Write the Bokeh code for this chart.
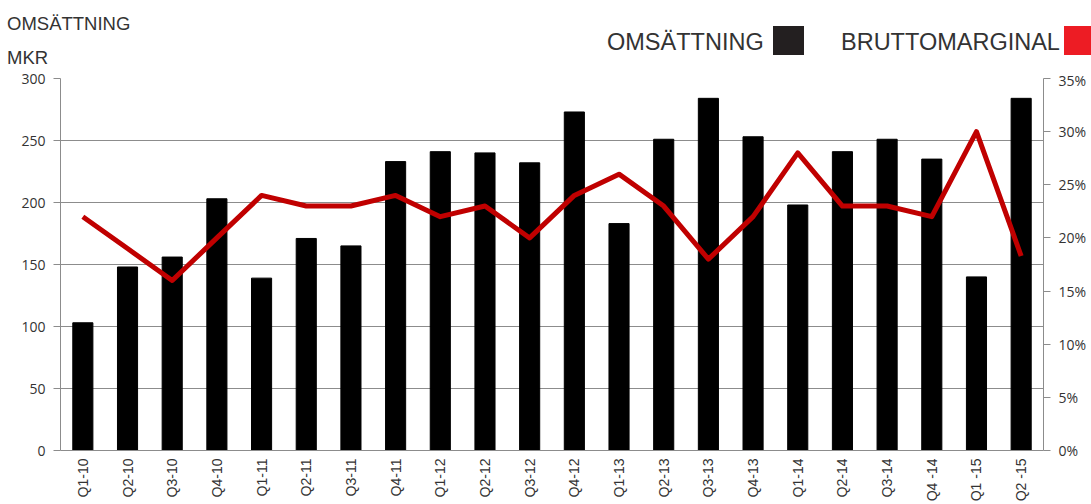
import math
from bokeh.plotting import figure
from bokeh.layouts import column
from bokeh.models import (Range1d, LinearAxis, FixedTicker, NumeralTickFormatter, Div)
from bokeh.embed import file_html
from bokeh.resources import INLINE

quarters = ["Q1-10", "Q2-10", "Q3-10", "Q4-10", "Q1-11", "Q2-11", "Q3-11", "Q4-11",
            "Q1-12", "Q2-12", "Q3-12", "Q4-12", "Q1-13", "Q2-13", "Q3-13", "Q4-13",
            "Q1-14", "Q2-14", "Q3-14", "Q4 -14", "Q1 -15", "Q2 -15"]
omsattning = [103, 148, 156, 203, 139, 171, 165, 233, 241, 240, 232, 273,
              183, 251, 284, 253, 198, 241, 251, 235, 140, 284]
bruttomarginal = [22, 19, 16, 20, 24, 23, 23, 24, 22, 23, 20, 24,
                  26, 23, 18, 22, 28, 23, 23, 22, 30, 18.3]
left_ticks = [0, 50, 100, 150, 200, 250, 300]
right_ticks = [0, 0.05, 0.10, 0.15, 0.20, 0.25, 0.30, 0.35]
title_lines = ["OMSÄTTNING", "MKR"]
legend_names = ["OMSÄTTNING", "BRUTTOMARGINAL"]
legend_colors = ["#231F20", "#ED1C24"]

FONT = "Open Sans"
XFONT = "Liberation Sans"
TFONT = "Lato"
GRID = "#8c8c8c"
TXT = "#333333"

xs = list(range(len(quarters)))
n = len(quarters)

# ---------------- header (titles + legend) as inline SVG ----------
title_y = [23, 57]
legend_text_x = [607, 841]
legend_box_x = [773, 1064]
parts = ['<svg xmlns="http://www.w3.org/2000/svg" width="1091" height="70" '
         'style="display:block">']
for t, y in zip(title_lines, title_y):
    parts.append(f'<text x="7" y="{y}" dominant-baseline="central" '
                 f'font-family="{TFONT}" font-size="18.5px" fill="{TXT}">{t}</text>')
for t, tx, bx, c in zip(legend_names, legend_text_x, legend_box_x, legend_colors):
    parts.append(f'<text x="{tx}" y="42" dominant-baseline="central" '
                 f'font-family="{TFONT}" font-size="23.5px" fill="{TXT}">{t}</text>')
    parts.append(f'<rect x="{bx}" y="26" width="31" height="29" fill="{c}"/>')
parts.append('</svg>')
header = Div(text="".join(parts), width=1091, height=70,
             styles={"margin": "0", "padding": "0", "overflow": "hidden"})

# ---------------- main chart ----------------
p = figure(width=1091, height=434, output_backend="svg", toolbar_location=None,
           x_range=Range1d(-0.5, n - 0.5), y_range=Range1d(0, 300),
           min_border_left=60, min_border_right=48, min_border_top=8, min_border_bottom=52)
p.outline_line_color = None
p.background_fill_color = "white"
p.border_fill_color = "white"
p.extra_y_ranges = {"pct": Range1d(0, 0.35)}

p.vbar(x=xs, top=omsattning, width=0.45, color="black")
p.line(x=xs, y=[v / 100 for v in bruttomarginal], y_range_name="pct",
       line_color="#C00000", line_width=5, line_join="round")

p.yaxis.ticker = FixedTicker(ticks=left_ticks)
p.ygrid.ticker = FixedTicker(ticks=left_ticks)
p.ygrid.grid_line_color = GRID
p.xgrid.grid_line_color = None
ya = p.yaxis[0]
ya.axis_line_color = GRID
ya.major_tick_line_color = GRID
ya.major_tick_out = 7
ya.major_tick_in = 0
ya.minor_tick_line_color = None
ya.major_label_text_font = FONT
ya.major_label_text_font_size = "14px"
ya.major_label_text_color = TXT
ya.major_label_standoff = 8

xa = p.xaxis[0]
xa.ticker = FixedTicker(ticks=xs)
xa.major_label_overrides = {i: q for i, q in zip(xs, quarters)}
xa.axis_line_color = GRID
xa.major_tick_line_color = None
xa.major_tick_out = 0
xa.major_tick_in = 0
xa.minor_tick_line_color = None
xa.minor_tick_out = 0
xa.major_label_orientation = math.pi / 2
xa.major_label_text_font = XFONT
xa.major_label_text_font_size = "14px"
xa.major_label_text_color = TXT
xa.major_label_standoff = 8

ra = LinearAxis(y_range_name="pct", ticker=FixedTicker(ticks=right_ticks),
                formatter=NumeralTickFormatter(format="0%"))
ra.axis_line_color = GRID
ra.major_tick_line_color = GRID
ra.major_tick_out = 7
ra.major_tick_in = 0
ra.minor_tick_line_color = None
ra.major_label_text_font = FONT
ra.major_label_text_font_size = "14px"
ra.major_label_text_color = TXT
ra.major_label_standoff = 8
p.add_layout(ra, "right")

layout = column(header, p, spacing=0)
open("out.html", "w").write(file_html(layout, INLINE))
